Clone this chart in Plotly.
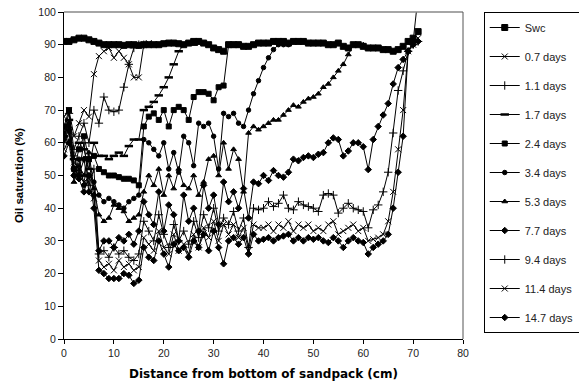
import plotly.graph_objects as go

# Distance from bottom of sandpack (cm), 1 cm spacing
swc = [91,91,91.5,92,92,91.5,91,90.5,90,90,
       90,90,89.8,90,90,89.8,90,90,90,90,
       90.3,90.5,90.5,90.3,90,90.5,91,91,90.5,90,
       89,88.5,88,90,90,90,89.5,89.5,90,90.5,
       90.5,90.5,91,91,91,90.5,91,91,91,90.5,
       90.5,90.5,90.5,90,90,90.5,89.5,89,90,90,
       89.5,89,89,89,88.5,88.5,88,88.5,89.5,91,
       92,94]
d07 = [68,70,62,66,70,68,81,86.5,88,89,86,88,86,84,80,80,90,90.5,90]
d11 = [64,69,58,62,66,60,70,66,74,70,69.5,70,77,84,89,90,90]
d17 = [62,67,55,60,58,52,60,56,56,55,56,57,56,59,61,61,70,71,72.5,74.5,
       77,80,84,88,90,90.5,90]
d24 = [65,70,52,58,62,55,56,52,51,50,50,49.5,49,49,48.5,47,65,68,69,67,
       70,65,70,71,70,67,74,75.5,75.5,75,73,77,77.5,90,90,90]
d34 = [63,66,50,55,47,50,48,44,42,43,42,41,40,42,43,44,61,60,58,56,
       60,52,57,51,62,60,53,66,65,66,62,52,69,68,69,66,65,70,75,79,
       83,86,88.5,90,90,90]
d53 = [62,65,48,53,50,57,46,38,36,37,41,40,39,36,37,38,45,50,47,52,
       44,50,46,52,47,46,50,44,48,55,56,50,60,52,58,55,45,63,65,64,
       65,66,67,67,68.5,70,71.5,71,72.5,73.5,74,75,77,78,80,82,84,87,90,90,
       90]
d77 = [61,64,52,50,55,45,44,27,30,30,
       28,31,30,32,29,33,42,38,35,45,
       33,41,38,30,44,36,40,33,47,40,
       44,35,48,42,45,40,46,37,48,47.5,
       50,48.5,51.5,50,49.5,51,55,54.5,55.5,56,
       55.5,56.5,57,60,61.5,61,56,57.5,60,60,
       58.8,51.8,61,65,68.5,72,78,83,85.5,88,
       90,91]
d94 = [60,63,56,51,60,47,52,26,27,25,
       28,26,27,25,24,26,36,33,30,38,
       32,28,35,30,33,29,36,31,38,34,
       40,33,37,35,39,33,37,28,40,39.5,
       40,42,40.5,41.5,44,40,39.5,42,41,40.5,
       40,39,44,44.5,44,38.5,40,41.5,40,39.5,
       39,34,39.5,41,45,51,63,76,82,88,
       90,91]
d114 = [58,61,54,52,48,55,43,24,22,23,
        21,24,22,23,21,22,31,29,27,33,
        28,26,32,27,29,26,32,28,34,31,
        36,30,35,32,35,31,34,27,35,34,
        34,35,33,35,34,36,33,35,34,35,
        33,34,33,35,36,32,33,34,35,33,
        34,30,30.5,31,32,36,45,58,70,88,
        90,92]
d147 = [56,60,50,49,45,50,40,21,20,18.5,
        18.5,18.5,20,19.5,17,18,28,25,24,30,
        26,22,29,27,28,25,30,28,32,27,
        33,28,23,30,31,29,31,26,32,30,
        30.5,31,30,31,31.5,32,30,31,30,31,
        30.5,31,30,29.5,31,30,28,30,31,30,
        29.5,26,28,29,30,32,40,51,62,88,
        91,105]

names = ["Swc", "0.7 days", "1.1 days", "1.7 days", "2.4 days", "3.4 days",
         "5.3 days", "7.7 days", "9.4 days", "11.4 days", "14.7 days"]
series = [swc, d07, d11, d17, d24, d34, d53, d77, d94, d114, d147]
symbols = ["square", "x-thin-open", "cross-thin-open", "line-ew-open", "square",
           "circle", "triangle-up", "diamond", "cross-thin-open", "x-thin-open", "diamond"]
sizes = [6, 6, 6, 6, 5, 4.5, 5, 5, 6, 6, 5]
mlw = [1, 1, 1, 2.5, 1, 1, 1, 1, 1, 1, 1]

x_ticks = [0, 10, 20, 30, 40, 50, 60, 70, 80]
y_ticks = [0, 10, 20, 30, 40, 50, 60, 70, 80, 90, 100]

fig = go.Figure()
for i, (nm, vals, sym, sz, lw) in enumerate(zip(names, series, symbols, sizes, mlw)):
    fig.add_trace(go.Scatter(
        x=list(range(len(vals))), y=vals, name=nm, mode="lines+markers",
        line=dict(color="black", width=1),
        marker=dict(symbol=sym, size=sz, color="black",
                    line=dict(color="black", width=lw)),
        legendgroup=f"g{i}"))

SANS = "Liberation Sans"
axis_font = dict(family=SANS, size=10.5, color="#222")

fig.update_layout(
    width=579, height=388,
    margin=dict(l=64, r=116, t=12, b=49, autoexpand=False),
    paper_bgcolor="white", plot_bgcolor="white",
    font=dict(family=SANS, color="black"),
    xaxis=dict(range=[0, 80], tickvals=x_ticks, showline=True, linecolor="black",
               linewidth=1, ticks="outside", ticklen=4, tickcolor="black",
               showgrid=False, zeroline=False, tickfont=axis_font,
               title=dict(text="Distance from bottom of sandpack (cm)",
                          font=dict(family="DejaVu Sans", size=12, color="black", weight="bold"),
                          standoff=12)),
    yaxis=dict(range=[0, 100], tickvals=y_ticks, showline=True, linecolor="black",
               linewidth=1, ticks="outside", ticklen=5, tickcolor="black",
               showgrid=False, zeroline=False, tickfont=axis_font,
               title=dict(text="Oil saturation (%)",
                          font=dict(family=SANS, size=11.5, color="black", weight="bold"),
                          standoff=12)),
    legend=dict(x=1.052, xanchor="left", y=1.0, yanchor="top",
                bordercolor="black", borderwidth=1, bgcolor="white",
                font=dict(family=SANS, size=11, color="#222"),
                tracegroupgap=10, itemwidth=30),
    showlegend=True,
)
fig.add_shape(type="line", xref="paper", yref="paper", x0=0, x1=1, y0=1, y1=1,
              line=dict(color="#888", width=1.5))
fig.add_shape(type="line", xref="paper", yref="paper", x0=1, x1=1, y0=0, y1=1,
              line=dict(color="#555", width=1))

fig.write_html("out.html")
